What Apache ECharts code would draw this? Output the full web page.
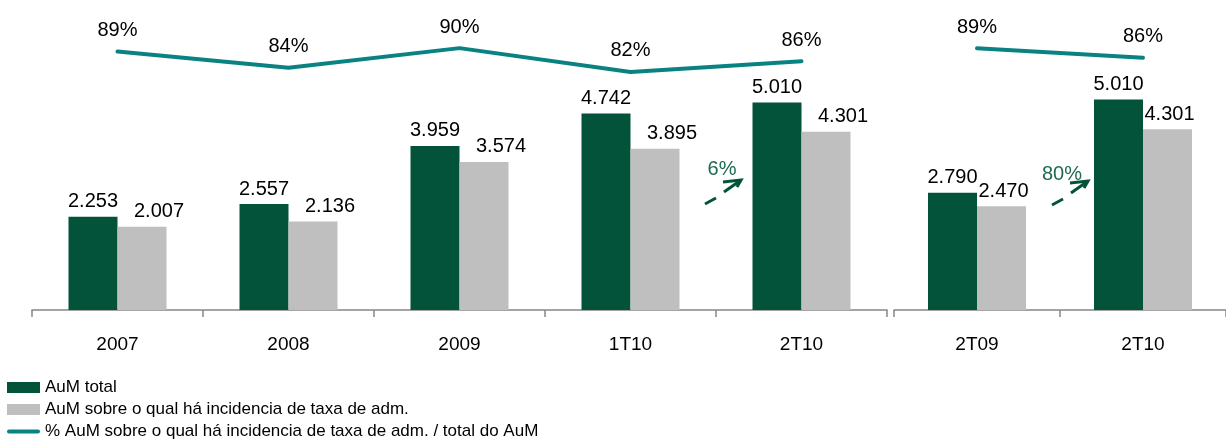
<!DOCTYPE html>
<html>
<head>
<meta charset="utf-8">
<script src="https://cdn.jsdelivr.net/npm/echarts@6/dist/echarts.min.js"></script>
<style>html,body{margin:0;padding:0;background:#fff}#c{width:1226px;height:444px}</style>
</head>
<body>
<div id="c"></div>
<script>
const catsLeft = ['2007', '2008', '2009', '1T10', '2T10'];
const aumTotalLeft = [2253, 2557, 3959, 4742, 5010];
const aumFeeLeft = [2007, 2136, 3574, 3895, 4301];
const pctLeft = [89.1, 83.5, 90.3, 82.1, 85.8];

const catsRight = ['2T09', '2T10'];
const aumTotalRight = [2790, 5010];
const aumFeeRight = [2470, 4301];
const pctRight = [89.0, 85.8];

const growthLabels = ['6%', '80%'];
const seriesNames = ['AuM total', 'AuM sobre o qual há incidencia de taxa de adm.', '% AuM sobre o qual há incidencia de taxa de adm. / total do AuM'];

const DARK = '#02533A', GRAY = '#BFBFBF', TEAL = '#0A8282', FONT = '"Liberation Sans", Arial, sans-serif';
const fmtNum = p => (p.value / 1000).toFixed(3);
const fmtPct = p => Math.round(p.value) + '%';

function xAxis(idx, data) {
  return {
    type: 'category', gridIndex: idx, data: data,
    axisLine: {lineStyle: {color: '#868686', width: 1.5}},
    axisTick: {show: true, length: 7, lineStyle: {color: '#868686', width: 1.5}},
    axisLabel: {color: '#000', fontSize: 19, fontFamily: FONT, margin: 25}
  };
}
function yAxis(idx, max) {
  return {type: 'value', gridIndex: idx, min: 0, max: max, show: false, splitLine: {show: false}};
}
function barSeries(name, data, idx, color, offX) {
  return {
    name: name, type: 'bar', xAxisIndex: idx, yAxisIndex: idx * 2, data: data,
    barWidth: 49, barGap: '0%', itemStyle: {color: color},
    label: {show: true, position: 'top', distance: 5, offset: [offX, 0], color: '#000', fontSize: 20, fontFamily: FONT, formatter: fmtNum}
  };
}
function lineSeries(data, idx) {
  return {
    name: seriesNames[2], type: 'line', xAxisIndex: idx, yAxisIndex: idx * 2 + 1, data: data,
    symbol: 'circle', symbolSize: 2, showSymbol: true, lineStyle: {color: TEAL, width: 4, cap: 'round'}, itemStyle: {color: TEAL},
    label: {show: true, position: 'top', distance: 10, color: '#000', fontSize: 20, fontFamily: FONT, formatter: fmtPct}
  };
}

function arrow(x, y, text, tx, ty) {
  return [
    {type: 'line', shape: {x1: x, y1: y, x2: x + 11, y2: y - 6}, style: {stroke: DARK, lineWidth: 3}},
    {type: 'line', shape: {x1: x + 19, y1: y - 12, x2: x + 36, y2: y - 24}, style: {stroke: DARK, lineWidth: 3}},
    {type: 'polyline', shape: {points: [[x + 18, y - 22], [x + 36, y - 24], [x + 32, y - 17]]}, style: {stroke: DARK, lineWidth: 3, fill: null}},
    {type: 'text', x: tx, y: ty, style: {text: text, fill: '#1E6A52', font: '20px ' + FONT, textAlign: 'center', textVerticalAlign: 'middle'}}
  ];
}

const chart = echarts.init(document.getElementById('c'), null, {renderer: 'canvas'});
chart.setOption({
  animation: false,
  textStyle: {fontFamily: FONT},
  grid: [
    {left: 32, width: 855, top: 20, bottom: 134},
    {left: 894, width: 344, top: 16, bottom: 134}
  ],
  xAxis: [xAxis(0, catsLeft), xAxis(1, catsRight)],
  yAxis: [yAxis(0, 7000), yAxis(0, 100), yAxis(1, 7000), yAxis(1, 100)],
  legend: {
    orient: 'vertical', left: 7, top: 379, padding: 0, itemWidth: 33, itemHeight: 11, itemGap: 5, itemTextGap: 3,
    textStyle: {color: '#000', fontSize: 17, fontFamily: FONT},
    data: [
      {name: seriesNames[0], icon: 'rect'},
      {name: seriesNames[1], icon: 'rect'},
      {name: seriesNames[2], icon: 'path://M2,0 L31,0 A2,2 0 0 1 31,4 L2,4 A2,2 0 0 1 2,0 Z', itemStyle: {color: TEAL}}
    ]
  },
  series: [
    barSeries(seriesNames[0], aumTotalLeft, 0, DARK, 0),
    barSeries(seriesNames[1], aumFeeLeft, 0, GRAY, 17),
    lineSeries(pctLeft, 0),
    barSeries(seriesNames[0], aumTotalRight, 1, DARK, 0),
    barSeries(seriesNames[1], aumFeeRight, 1, GRAY, 2),
    lineSeries(pctRight, 1)
  ],
  graphic: [].concat(arrow(705, 204, growthLabels[0], 722, 169), arrow(1052, 205, growthLabels[1], 1062, 174))
});
</script>
</body>
</html>
